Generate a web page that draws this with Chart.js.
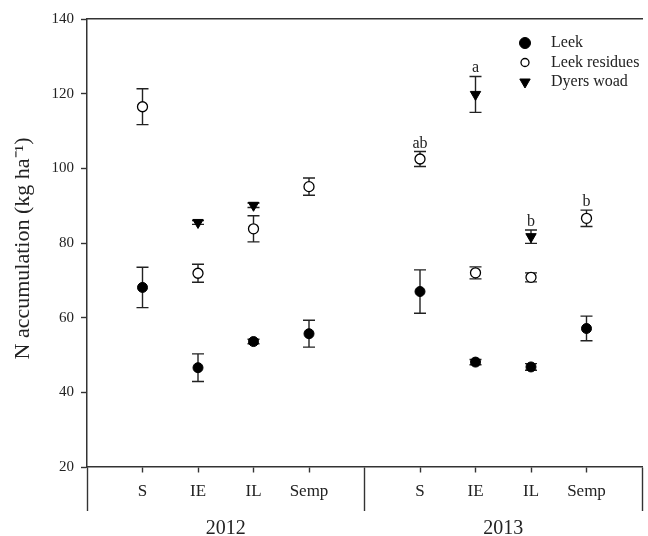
<!DOCTYPE html>
<html>
<head>
<meta charset="utf-8">
<script src="https://cdn.jsdelivr.net/npm/chart.js@4"></script>
<style>
  html, body { margin: 0; padding: 0; background: #fff; overflow: hidden; }
  canvas { display: block; }
</style>
</head>
<body>
<canvas id="chart" width="648" height="536"></canvas>
<script>
// categories within each year, and the two years
const categories = ['S', 'IE', 'IL', 'Semp'];
const years = ['2012', '2013'];

// values: 2012 S, IE, IL, Semp, then 2013 S, IE, IL, Semp
const leek = [68.1, 46.6, 53.6, 55.7, 67.0, 48.1, 46.8, 57.1];
const leekErr = [5.4, 3.7, 0.6, 3.6, 5.8, 0.7, 0.9, 3.3];
const residues = [116.5, 71.9, 83.8, 95.1, 102.5, 72.0, 70.8, 86.6];
const residuesErr = [4.8, 2.4, 3.5, 2.3, 2.0, 1.6, 1.2, 2.2];
const woad = [null, 85.5, 90.1, null, null, 119.8, 81.7, null];
const woadErr = [null, 0.5, 0.6, null, null, 4.8, 1.8, null];

// significance letters
const residuesLetters = ['', '', '', '', 'ab', '', '', 'b'];
const woadLetters = ['', '', '', '', '', 'a', 'b', ''];

const yTicks = [20, 40, 60, 80, 100, 120, 140];

const serif = "'Liberation Serif', 'Times New Roman', serif";
const ink = '#222';

// slot on the x scale: 1..4 for 2012, 6..9 for 2013 (5 is the divider)
function slot(i) { return i < 4 ? i + 1 : i + 2; }
function points(vals) {
  const out = [];
  vals.forEach((v, i) => { if (v != null) out.push({ x: slot(i), y: v, i: i }); });
  return out;
}

const errorBars = {
  id: 'errorBars',
  beforeDatasetsDraw(chart) {
    const { ctx, scales: { x, y } } = chart;
    ctx.save();
    ctx.strokeStyle = ink;
    ctx.lineWidth = 1.4;
    chart.data.datasets.forEach(ds => {
      ds.data.forEach(p => {
        const e = ds.errors[p.i];
        const px = x.getPixelForValue(p.x);
        const top = y.getPixelForValue(p.y + e);
        const bot = y.getPixelForValue(p.y - e);
        ctx.beginPath();
        ctx.moveTo(px, top); ctx.lineTo(px, bot);
        ctx.moveTo(px - 6, top); ctx.lineTo(px + 6, top);
        ctx.moveTo(px - 6, bot); ctx.lineTo(px + 6, bot);
        ctx.stroke();
      });
    });
    ctx.restore();
  },
  afterDatasetsDraw(chart) {
    const { ctx, scales: { x, y } } = chart;
    ctx.save();
    ctx.fillStyle = ink;
    ctx.font = '16px ' + serif;
    ctx.textAlign = 'center';
    ctx.textBaseline = 'alphabetic';
    chart.data.datasets.forEach(ds => {
      if (!ds.letters) return;
      ds.data.forEach(p => {
        const t = ds.letters[p.i];
        if (!t) return;
        const px = x.getPixelForValue(p.x);
        const top = y.getPixelForValue(p.y + ds.errors[p.i]);
        ctx.fillText(t, px, top - 4);
      });
    });
    // legend, top right
    ctx.textAlign = 'left';
    ctx.textBaseline = 'middle';
    chart.data.datasets.forEach((ds, k) => {
      const ly = 43 + k * 19.5;
      ctx.fillStyle = ds.backgroundColor;
      ctx.strokeStyle = ds.borderColor;
      ctx.lineWidth = ds.borderWidth;
      Chart.helpers.drawPoint(ctx, {
        pointStyle: ds.pointStyle, rotation: ds.rotation || 0,
        radius: ds.legendRadius, borderWidth: ds.borderWidth
      }, 525, ly);
      ctx.fillStyle = ink;
      ctx.fillText(ds.label, 551, ly);
    });
    ctx.restore();
  }
};

new Chart(document.getElementById('chart'), {
  type: 'scatter',
  data: {
    datasets: [
      {
        label: 'Leek', data: points(leek), errors: leekErr,
        pointStyle: 'circle', pointRadius: 5, legendRadius: 5.5,
        backgroundColor: '#000', borderColor: '#000', borderWidth: 1
      },
      {
        label: 'Leek residues', data: points(residues), errors: residuesErr, letters: residuesLetters,
        pointStyle: 'circle', pointRadius: 5, legendRadius: 4,
        backgroundColor: '#fff', borderColor: '#000', borderWidth: 1.3
      },
      {
        label: 'Dyers woad', data: points(woad), errors: woadErr, letters: woadLetters,
        pointStyle: 'triangle', rotation: 180, pointRotation: 180, pointRadius: 6, legendRadius: 6,
        backgroundColor: '#000', borderColor: '#000', borderWidth: 1
      }
    ]
  },
  options: {
    responsive: false,
    animation: false,
    layout: { autoPadding: false, padding: { top: 19, right: 1, left: 0, bottom: 0 } },
    plugins: { legend: { display: false }, tooltip: { enabled: false } },
    scales: {
      x: {
        type: 'linear', position: 'bottom', weight: 0,
        min: 0, max: 10,
        ticks: {
          stepSize: 1, autoSkip: false, maxRotation: 0, padding: -30,
          color: ink, font: { family: serif, size: 17 },
          callback: v => (v >= 1 && v <= 4) ? categories[v - 1] : (v >= 6 && v <= 9) ? categories[v - 6] : ''
        },
        grid: {
          drawOnChartArea: false, tickLength: 44, tickColor: '#333', tickWidth: 1.4,
          tickBorderDash: c => (c.tick && c.tick.value % 5 === 0) ? [] : [5, 100]
        },
        border: { color: '#333', width: 1.5 },
        afterFit(s) { s.height = 44; }
      },
      years: {
        type: 'linear', position: 'bottom', weight: 1, display: true,
        min: 0, max: 10,
        ticks: {
          stepSize: 2.5, autoSkip: false, maxRotation: 0, padding: 6,
          color: ink, font: { family: serif, size: 20 },
          callback: v => v === 2.5 ? years[0] : v === 7.5 ? years[1] : ''
        },
        grid: { display: false, drawTicks: false },
        border: { display: false },
        afterFit(s) { s.height = 25; }
      },
      top: {
        type: 'linear', position: 'top', display: true,
        min: 0, max: 10,
        ticks: { display: false },
        grid: { display: false },
        border: { color: '#333', width: 1.5 },
        afterFit(s) { s.height = 0; }
      },
      y: {
        min: 20, max: 140,
        afterBuildTicks(s) { s.ticks = yTicks.map(v => ({ value: v })); },
        ticks: { color: ink, padding: 7, font: { family: serif, size: 15 } },
        grid: { drawOnChartArea: false, tickLength: 6, tickColor: '#333', tickWidth: 1.4 },
        border: { color: '#333', width: 1.5 },
        title: {
          display: true, text: 'N accumulation (kg ha\u207B\u00B9)  ',
          color: ink, font: { family: serif, size: 22 },
          padding: { top: 10, bottom: 0 }
        },
        afterFit(s) { s.width = 87; }
      }
    }
  },
  plugins: [errorBars]
});
</script>
</body>
</html>
